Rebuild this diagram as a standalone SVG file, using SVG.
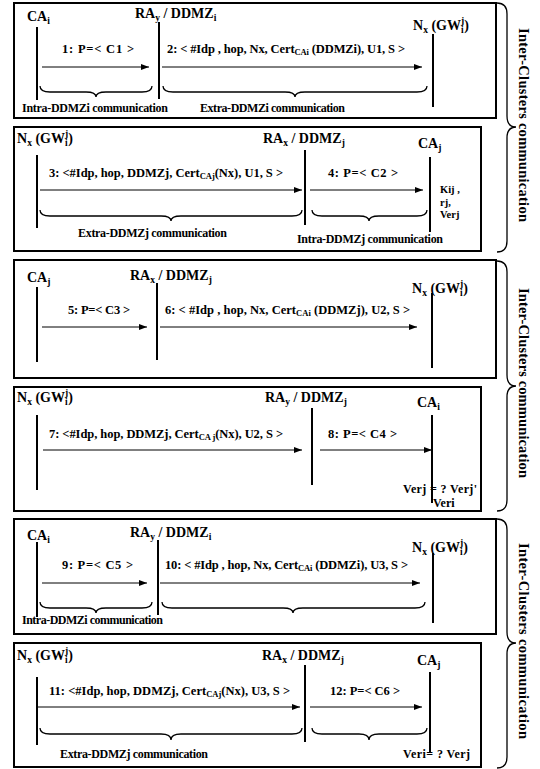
<svg xmlns="http://www.w3.org/2000/svg" width="540" height="769" viewBox="0 0 540 769" font-family="'Liberation Serif', 'DejaVu Serif', serif" font-weight="bold">
<defs>
<marker id="ah" markerUnits="userSpaceOnUse" markerWidth="8" markerHeight="6" refX="8" refY="3" orient="auto"><path d="M0,0 L8,3 L0,6 z" fill="#000"/></marker>
</defs>
<style>
.box{fill:#fff;stroke:#000;stroke-width:2}
.life{stroke:#000;stroke-width:2}
.msg{stroke:#000;stroke-width:1;marker-end:url(#ah)}
.brace{fill:none;stroke:#000;stroke-width:1.3}
text{font-family:'Liberation Serif','DejaVu Serif',serif;font-weight:bold;fill:#000}
.hdr{font-size:14px}
.sub{font-size:9.5px}
.m{font-size:12.5px}
.s2{font-size:8.5px}
.note{font-size:12px}
.kv{font-size:10.5px}
.side{font-size:14.5px}
</style>
<rect width="540" height="769" fill="#fff"/>

<!-- Panel 1 -->
<g id="panel1">
<rect class="box" x="14" y="3" width="482" height="115"/>
<g id="p1-CAi"><text class="hdr" x="27" y="21">CA<tspan class="sub" dy="3">i</tspan></text><line class="life" x1="37" y1="27" x2="37" y2="100"/></g>
<g id="p1-RAy"><text class="hdr" x="135" y="18">RA<tspan class="sub" dy="3">y</tspan><tspan dy="-3"> / DDMZ</tspan><tspan class="sub" dy="3">i</tspan></text><line class="life" x1="159" y1="22" x2="159" y2="99"/></g>
<g id="p1-Nx"><text class="hdr" x="413" y="30">N<tspan class="sub" dy="3">x</tspan><tspan dy="-3"> (GW</tspan><tspan class="sub" dy="3">i</tspan><tspan class="sub" dx="-2.6" dy="-9">j</tspan><tspan dy="6">)</tspan></text><line class="life" x1="433" y1="34" x2="433" y2="107"/></g>
<text class="m" x="62" y="53" textLength="72" lengthAdjust="spacing">1: P=&lt; C1 &gt;</text>
<text class="m" x="167" y="53" textLength="238" lengthAdjust="spacing">2: &lt; #Idp , hop, Nx, Cert<tspan class="s2" dy="2">CAi</tspan><tspan dy="-2"> (DDMZi), U1, S &gt;</tspan></text>
<text class="note" x="22" y="112" textLength="146" lengthAdjust="spacing">Intra-DDMZi communication</text>
<text class="note" x="200" y="112" textLength="145" lengthAdjust="spacing">Extra-DDMZi communication</text>
</g>

<!-- Panel 2 -->
<g id="panel2">
<rect class="box" x="14" y="127" width="467" height="124"/>
<g id="p2-Nx"><text class="hdr" x="17" y="143">N<tspan class="sub" dy="3">x</tspan><tspan dy="-3"> (GW</tspan><tspan class="sub" dy="3">i</tspan><tspan class="sub" dx="-2.6" dy="-9">j</tspan><tspan dy="6">)</tspan></text><line class="life" x1="37" y1="155" x2="37" y2="228"/></g>
<g id="p2-RAx"><text class="hdr" x="263" y="143">RA<tspan class="sub" dy="3">x</tspan><tspan dy="-3"> / DDMZ</tspan><tspan class="sub" dy="3">j</tspan></text><line class="life" x1="305" y1="150" x2="305" y2="225"/></g>
<g id="p2-CAj"><text class="hdr" x="418" y="148">CA<tspan class="sub" dy="3">j</tspan></text><line class="life" x1="430" y1="157" x2="430" y2="232"/></g>
<text class="m" x="49" y="177" textLength="234" lengthAdjust="spacing">3: &lt;#Idp, hop, DDMZj, Cert<tspan class="s2" dy="2">CAj</tspan><tspan dy="-2">(Nx), U1, S &gt;</tspan></text>
<text class="m" x="328" y="177" textLength="70" lengthAdjust="spacing">4: P=&lt; C2 &gt;</text>
<text class="kv" x="440" y="193">Kij ,</text>
<text class="kv" x="440" y="205.5">rj,</text>
<text class="kv" x="440" y="218">Verj</text>
<text class="note" x="78" y="237" textLength="149" lengthAdjust="spacing">Extra-DDMZj communication</text>
<text class="note" x="297" y="243" textLength="146" lengthAdjust="spacing">Intra-DDMZj communication</text>
</g>

<!-- Panel 3 -->
<g id="panel3">
<rect class="box" x="14" y="260" width="482" height="118"/>
<g id="p3-CAj"><text class="hdr" x="27" y="282">CA<tspan class="sub" dy="3">j</tspan></text><line class="life" x1="37" y1="287" x2="37" y2="362"/></g>
<g id="p3-RAx"><text class="hdr" x="130" y="280">RA<tspan class="sub" dy="3">x</tspan><tspan dy="-3"> / DDMZ</tspan><tspan class="sub" dy="3">j</tspan></text><line class="life" x1="157" y1="283" x2="157" y2="360"/></g>
<g id="p3-Nx"><text class="hdr" x="412" y="293">N<tspan class="sub" dy="3">x</tspan><tspan dy="-3"> (GW</tspan><tspan class="sub" dy="3">i</tspan><tspan class="sub" dx="-2.6" dy="-9">j</tspan><tspan dy="6">)</tspan></text><line class="life" x1="432" y1="293" x2="432" y2="368"/></g>
<text class="m" x="68" y="314" textLength="62" lengthAdjust="spacing">5: P=&lt; C3 &gt;</text>
<text class="m" x="165" y="314" textLength="245" lengthAdjust="spacing">6: &lt; #Idp , hop, Nx, Cert<tspan class="s2" dy="2">CAi</tspan><tspan dy="-2"> (DDMZj), U2, S &gt;</tspan></text>
</g>

<!-- Panel 4 -->
<g id="panel4">
<rect class="box" x="14" y="387" width="467" height="124"/>
<g id="p4-Nx"><text class="hdr" x="17" y="402">N<tspan class="sub" dy="3">x</tspan><tspan dy="-3"> (GW</tspan><tspan class="sub" dy="3">i</tspan><tspan class="sub" dx="-2.6" dy="-9">j</tspan><tspan dy="6">)</tspan></text><line class="life" x1="37" y1="415" x2="37" y2="490"/></g>
<g id="p4-RAy"><text class="hdr" x="265" y="402">RA<tspan class="sub" dy="3">y</tspan><tspan dy="-3"> / DDMZ</tspan><tspan class="sub" dy="3">j</tspan></text><line class="life" x1="312" y1="408" x2="312" y2="485"/></g>
<g id="p4-CAi"><text class="hdr" x="417" y="407">CA<tspan class="sub" dy="3">i</tspan></text><line class="life" x1="432" y1="415" x2="432" y2="503"/></g>
<text class="m" x="49" y="438" textLength="234" lengthAdjust="spacing">7: &lt;#Idp, hop, DDMZj, Cert<tspan class="s2" dy="2">CA j</tspan><tspan dy="-2">(Nx), U2, S &gt;</tspan></text>
<text class="m" x="328" y="438" textLength="69" lengthAdjust="spacing">8: P=&lt; C4 &gt;</text>
<text class="note" x="403" y="493" textLength="74" lengthAdjust="spacing">Verj = ? Verj'</text>
<text class="note" x="433" y="507">Veri</text>
</g>

<!-- Panel 5 -->
<g id="panel5">
<rect class="box" x="14" y="519" width="482" height="115"/>
<g id="p5-CAi"><text class="hdr" x="27" y="540">CA<tspan class="sub" dy="3">i</tspan></text><line class="life" x1="37" y1="542" x2="37" y2="617"/></g>
<g id="p5-RAy"><text class="hdr" x="130" y="537">RA<tspan class="sub" dy="3">y</tspan><tspan dy="-3"> / DDMZ</tspan><tspan class="sub" dy="3">i</tspan></text><line class="life" x1="158" y1="540" x2="158" y2="615"/></g>
<g id="p5-Nx"><text class="hdr" x="412" y="552">N<tspan class="sub" dy="3">x</tspan><tspan dy="-3"> (GW</tspan><tspan class="sub" dy="3">i</tspan><tspan class="sub" dx="-2.6" dy="-9">j</tspan><tspan dy="6">)</tspan></text><line class="life" x1="433" y1="553" x2="433" y2="623"/></g>
<text class="m" x="62" y="569" textLength="71" lengthAdjust="spacing">9: P=&lt; C5 &gt;</text>
<text class="m" x="165" y="569" textLength="243" lengthAdjust="spacing">10: &lt; #Idp , hop, Nx, Cert<tspan class="s2" dy="2">CAi</tspan><tspan dy="-2"> (DDMZi), U3, S &gt;</tspan></text>
<text class="note" x="22" y="624" textLength="141" lengthAdjust="spacing">Intra-DDMZi communication</text>
</g>

<!-- Panel 6 -->
<g id="panel6">
<rect class="box" x="14" y="643" width="467" height="124"/>
<g id="p6-Nx"><text class="hdr" x="17" y="660">N<tspan class="sub" dy="3">x</tspan><tspan dy="-3"> (GW</tspan><tspan class="sub" dy="3">i</tspan><tspan class="sub" dx="-2.6" dy="-9">j</tspan><tspan dy="6">)</tspan></text><line class="life" x1="37" y1="677" x2="37" y2="745"/></g>
<g id="p6-RAx"><text class="hdr" x="262" y="660">RA<tspan class="sub" dy="3">x</tspan><tspan dy="-3"> / DDMZ</tspan><tspan class="sub" dy="3">j</tspan></text><line class="life" x1="305" y1="665" x2="305" y2="742"/></g>
<g id="p6-CAj"><text class="hdr" x="417" y="665">CA<tspan class="sub" dy="3">j</tspan></text><line class="life" x1="430" y1="672" x2="430" y2="752"/></g>
<text class="m" x="49" y="695" textLength="241" lengthAdjust="spacing">11: &lt;#Idp, hop, DDMZj, Cert<tspan class="s2" dy="2">CAj</tspan><tspan dy="-2">(Nx), U3, S &gt;</tspan></text>
<text class="m" x="330" y="695" textLength="70" lengthAdjust="spacing">12: P=&lt; C6 &gt;</text>
<text class="note" x="60" y="758" textLength="148" lengthAdjust="spacing">Extra-DDMZj communication</text>
<text class="note" x="403" y="758" textLength="67" lengthAdjust="spacing">Veri= ? Verj</text>
</g>

<!-- Connectors -->
<g id="connectors">
<line class="msg" x1="42" y1="67" x2="149" y2="67"/>
<line class="msg" x1="162" y1="67" x2="422" y2="67"/>
<line class="msg" x1="40" y1="190" x2="302" y2="190"/>
<line class="msg" x1="310" y1="190" x2="423" y2="190"/>
<line class="msg" x1="42" y1="327" x2="147" y2="327"/>
<line class="msg" x1="160" y1="327" x2="417" y2="327"/>
<line class="msg" x1="43" y1="450" x2="302" y2="450"/>
<line class="msg" x1="320" y1="450" x2="432" y2="450"/>
<line class="msg" x1="42" y1="583" x2="147" y2="583"/>
<line class="msg" x1="160" y1="583" x2="420" y2="583"/>
<line class="msg" x1="38" y1="707" x2="300" y2="707"/>
<line class="msg" x1="310" y1="707" x2="422" y2="707"/>
</g>

<!-- Under-arrow braces -->
<g id="braces">
<path class="brace" d="M40,86 Q40,92 50,92 L86,92 Q96,92 96,97 Q96,92 106,92 L142,92 Q152,92 152,86"/>
<path class="brace" d="M163,86 Q163,92 173,92 L285,92 Q295,92 295,97 Q295,92 305,92 L417,92 Q427,92 427,86"/>
<path class="brace" d="M40,210 Q40,216 50,216 L161,216 Q171,216 171,221 Q171,216 181,216 L292,216 Q302,216 302,210"/>
<path class="brace" d="M312,210 Q312,216 322,216 L359,216 Q369,216 369,221 Q369,216 379,216 L417,216 Q427,216 427,210"/>
<path class="brace" d="M40,602 Q40,608 50,608 L86,608 Q96,608 96,613 Q96,608 106,608 L142,608 Q152,608 152,602"/>
<path class="brace" d="M162,602 Q162,608 172,608 L283,608 Q293,608 293,613 Q293,608 303,608 L415,608 Q425,608 425,602"/>
<path class="brace" d="M40,728 Q40,734 50,734 L161,734 Q171,734 171,740 Q171,734 181,734 L292,734 Q302,734 302,728"/>
<path class="brace" d="M312,728 Q312,734 322,734 L359,734 Q369,734 369,740 Q369,734 379,734 L417,734 Q427,734 427,728"/>
</g>

<!-- Side braces and labels -->
<g id="side1">
<path class="brace" d="M497,3 Q507,3 507,14 L507,116 Q507,127 516,127 Q507,127 507,138 L507,241 Q507,252 497,252"/>
<text class="side" transform="translate(524,125) rotate(90)" text-anchor="middle" dy="5" textLength="194" lengthAdjust="spacing">Inter-Clusters communication</text>
</g>
<g id="side2">
<path class="brace" d="M497,261 Q507,261 507,272 L507,375 Q507,386 516,386 Q507,386 507,397 L507,500 Q507,511 497,511"/>
<text class="side" transform="translate(524,383) rotate(90)" text-anchor="middle" dy="5" textLength="190" lengthAdjust="spacing">Inter-Clusters communication</text>
</g>
<g id="side3">
<path class="brace" d="M497,519 Q507,519 507,530 L507,632 Q507,643 516,643 Q507,643 507,654 L507,757 Q507,768 497,768"/>
<text class="side" transform="translate(524,641) rotate(90)" text-anchor="middle" dy="5" textLength="196" lengthAdjust="spacing">Inter-Clusters communication</text>
</g>
</svg>
